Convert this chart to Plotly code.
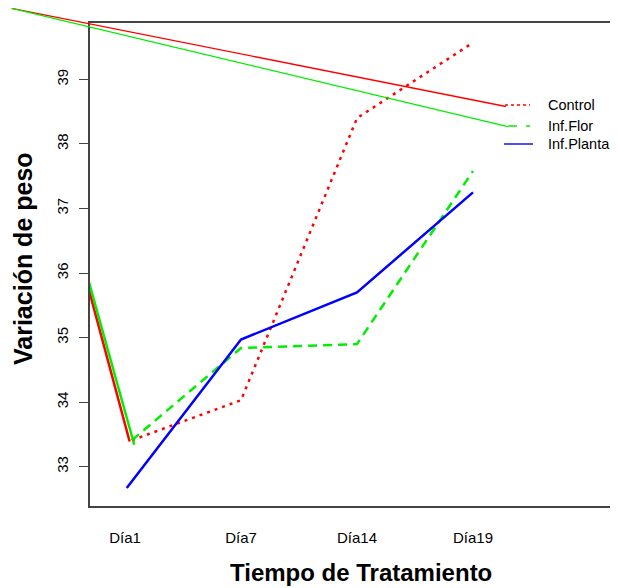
import plotly.graph_objects as go

# ---------------- data ----------------
dias = ["Día1", "Día7", "Día14", "Día19"]
dia_pos = [1, 2, 3, 4]
control = [33.41, 34.03, 38.40, 39.57]
inf_flor = [33.41, 34.84, 34.90, 37.58]
inf_planta = [32.67, 34.97, 35.70, 37.25]
y_ticks = [33, 34, 35, 36, 37, 38, 39]

# lead-in segments (from an unlabelled start point, clipped by the plot box)
lead_x_control = [0, 1.04]
lead_control = [40.35, 33.39]
lead_x_flor = [0, 1.08]
lead_flor = [40.30, 33.34]

# stray segments that run from the top-left corner to the legend keys
stray_x_control = [0.023, 4.284]
stray_control = [40.10, 38.58]
stray_x_flor = [0.023, 4.30]
stray_flor = [40.10, 38.27]

# ---------------- geometry / style ----------------
# the page body has an 8px margin, so the figure starts 8px in from the window
OFF = 8
WIN_W, WIN_H = 618, 588
W, H = WIN_W - OFF, WIN_H - OFF


def fx(px):  # window pixel -> figure pixel
    return px - OFF


def fy(py):
    return py - OFF


plot_l, plot_r, plot_t, plot_b = fx(90), fx(618), fy(23), fy(506)
x1_px, x_px_per = fx(125), 116.0
y33_px, y_px_per = fy(466.7), 64.55
dodge = {"Control": 0.06, "Inf.Flor": 0.06, "Inf.Planta": 0.015}

RED, GREEN, BLUE = "#FF0000", "#00EE00", "#0000FF"
FRAME = "#444444"
FONT = "Liberation Sans"


def px_to_x(px):
    return 1 + (px - x1_px) / x_px_per


def py_to_y(py):
    return 33 + (y33_px - py) / y_px_per


def dodged(name):
    return [p + dodge[name] if i == 0 else p for i, p in enumerate(dia_pos)]


fig = go.Figure()

# lead-in lines (clipped to the plot box)
fig.add_trace(go.Scatter(x=lead_x_control, y=lead_control, mode="lines",
                         line=dict(color=RED, width=2.5), showlegend=False,
                         hoverinfo="skip"))
fig.add_trace(go.Scatter(x=lead_x_flor, y=lead_flor, mode="lines",
                         line=dict(color=GREEN, width=2.5), showlegend=False,
                         hoverinfo="skip"))

# main series
fig.add_trace(go.Scatter(x=dodged("Control"), y=control, mode="lines", name="Control",
                         line=dict(color=RED, width=2.5, dash="3px,5px"),
                         showlegend=False))
fig.add_trace(go.Scatter(x=dodged("Inf.Flor"), y=inf_flor, mode="lines", name="Inf.Flor",
                         line=dict(color=GREEN, width=2.5, dash="9px,6px"),
                         showlegend=False))
fig.add_trace(go.Scatter(x=dodged("Inf.Planta"), y=inf_planta, mode="lines", name="Inf.Planta",
                         line=dict(color=BLUE, width=2.5),
                         showlegend=False))

# stray lines on a full-figure, invisible subplot (not clipped by the box)
fig.add_trace(go.Scatter(x=stray_x_control, y=stray_control, mode="lines",
                         line=dict(color=RED, width=1.3), showlegend=False,
                         hoverinfo="skip", xaxis="x2", yaxis="y2"))
fig.add_trace(go.Scatter(x=stray_x_flor, y=stray_flor, mode="lines",
                         line=dict(color=GREEN, width=1.3), showlegend=False,
                         hoverinfo="skip", xaxis="x2", yaxis="y2"))

# ---------------- legend (drawn by hand) ----------------
shapes = []
annotations = []
leg = [
    ("Control", RED, "dot", 505, 530, 105),
    ("Inf.Flor", GREEN, "dash", 508, 530, 126),
    ("Inf.Planta", BLUE, "solid", 504, 533, 144),
]
for name, col, dash, x0, x1, yy in leg:
    shapes.append(dict(type="line", xref="paper", yref="paper",
                       x0=fx(x0) / W, x1=fx(x1) / W,
                       y0=1 - fy(yy) / H, y1=1 - fy(yy) / H,
                       line=dict(color=col, width=1.4, dash=dash)))
    annotations.append(dict(text=name, xref="paper", yref="paper",
                            x=fx(546) / W, y=1 - fy(yy) / H, xanchor="left",
                            yanchor="middle", showarrow=False,
                            font=dict(family=FONT, size=14.5, color="#000000")))

# axis titles
annotations.append(dict(text="Tiempo de Tratamiento", xref="paper", yref="paper",
                        x=fx(361) / W, y=1 - fy(572) / H, xanchor="center",
                        yanchor="middle", showarrow=False,
                        font=dict(family=FONT, size=24, color="#000000", weight="bold")))
annotations.append(dict(text="Variación de peso", xref="paper", yref="paper",
                        x=fx(23) / W, y=1 - fy(259) / H, xanchor="center",
                        yanchor="middle", textangle=-90, showarrow=False,
                        font=dict(family=FONT, size=25, color="#000000", weight="bold")))

fig.update_layout(
    width=W, height=H,
    margin=dict(l=0, r=0, t=0, b=0),
    paper_bgcolor="white",
    plot_bgcolor="rgba(0,0,0,0)",
    font=dict(family=FONT, size=15, color="#000000"),
    showlegend=False,
    shapes=shapes,
    annotations=annotations,
    xaxis=dict(domain=[plot_l / W, plot_r / W],
               range=[px_to_x(plot_l), px_to_x(plot_r)],
               tickmode="array", tickvals=dia_pos, ticktext=dias,
               ticks="", showline=True, mirror=True, linecolor=FRAME,
               linewidth=1.5, showgrid=False, zeroline=False,
               ticklabelstandoff=17, tickfont=dict(size=15),
               fixedrange=True, anchor="y"),
    yaxis=dict(domain=[1 - plot_b / H, 1 - plot_t / H],
               range=[py_to_y(plot_b), py_to_y(plot_t)],
               tickmode="array", tickvals=y_ticks,
               ticktext=[str(v) for v in y_ticks], tickangle=-90,
               ticks="outside", ticklen=9, tickwidth=1.3, tickcolor=FRAME,
               showline=True, linecolor=FRAME, linewidth=1.5,
               showgrid=False, zeroline=False, ticklabelstandoff=5,
               tickfont=dict(size=15), fixedrange=True, anchor="x"),
    xaxis2=dict(domain=[0, 1], range=[px_to_x(0), px_to_x(W)],
                visible=False, fixedrange=True, anchor="y2"),
    yaxis2=dict(domain=[0, 1], range=[py_to_y(H), py_to_y(0)],
                visible=False, fixedrange=True, anchor="x2"),
)

fig.write_html("out.html")
